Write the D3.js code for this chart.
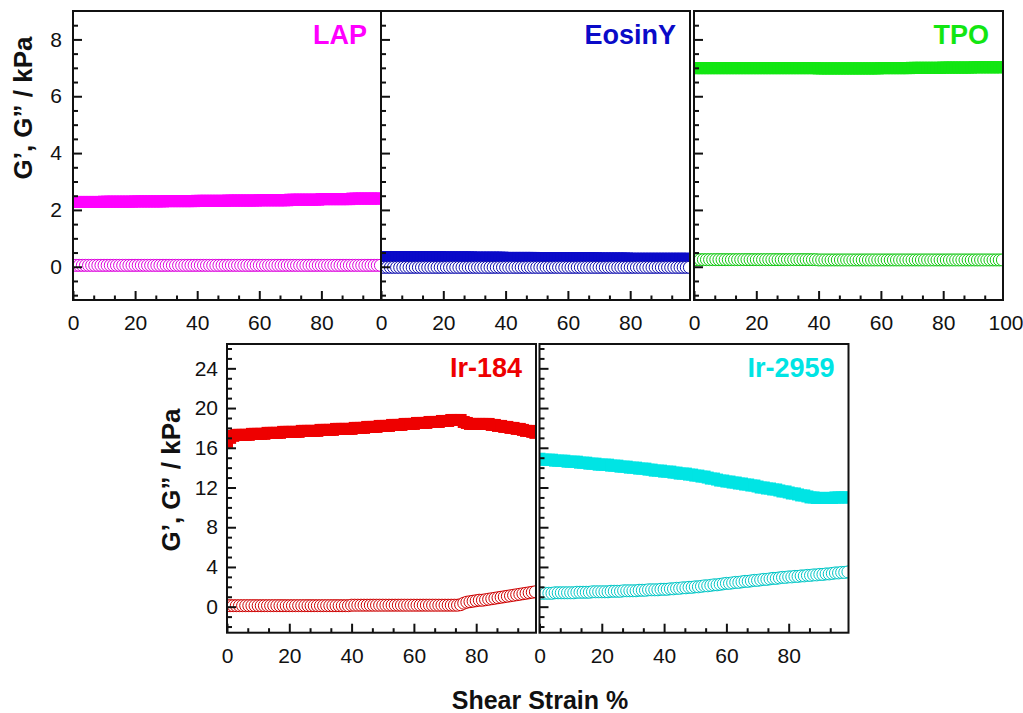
<!DOCTYPE html>
<html>
<head>
<meta charset="utf-8">
<script src="https://cdn.jsdelivr.net/npm/d3@7"></script>
<style>
  body { margin: 0; background: #fff; }
  svg { display: block; font-family: "Liberation Sans", Arial, sans-serif; }
</style>
</head>
<body>
<svg id="chart" width="1023" height="713"></svg>
<script>
// shear strain (%) of every measured point
const strain = [0,1,2,3,4,5,6,7,8,9,10,11,12,13,14,15,16,17,18,19,20,21,22,23,24,25,26,27,28,29,30,31,32,33,34,35,36,37,38,39,40,41,42,43,44,45,46,47,48,49,50,51,52,53,54,55,56,57,58,59,60,61,62,63,64,65,66,67,68,69,70,71,72,73,74,75,76,77,78,79,80,81,82,83,84,85,86,87,88,89,90,91,92,93,94,95,96,97,98,99]

// G' (filled squares) and G'' (open circles), kPa
const lapGp = [2.28,2.28,2.28,2.28,2.28,2.28,2.28,2.28,2.28,2.28, 2.29,2.29,2.29,2.29,2.29,2.29,2.29,2.29,2.29,2.29, 2.30,2.30,2.30,2.30,2.30,2.30,2.30,2.30,2.30,2.30, 2.31,2.31,2.31,2.31,2.31,2.31,2.31,2.31,2.31,2.31, 2.32,2.32,2.32,2.32,2.32,2.32,2.32,2.32,2.32,2.32, 2.33,2.33,2.33,2.33,2.33,2.33,2.33,2.33,2.33,2.33, 2.34,2.34,2.34,2.34,2.34,2.34,2.34,2.34,2.34,2.34, 2.36,2.36,2.36,2.36,2.36,2.36,2.36,2.36,2.36,2.36, 2.38,2.38,2.38,2.38,2.38,2.38,2.38,2.38,2.38,2.38, 2.40,2.40,2.40,2.40,2.40,2.40,2.40,2.40,2.40,2.40]
const lapGpp = [0.05,0.05,0.05,0.05,0.05,0.05,0.05,0.05,0.05,0.05, 0.05,0.05,0.05,0.05,0.05,0.05,0.05,0.05,0.05,0.05, 0.05,0.05,0.05,0.05,0.05,0.05,0.05,0.05,0.05,0.05, 0.05,0.05,0.05,0.05,0.05,0.05,0.05,0.05,0.05,0.05, 0.05,0.05,0.05,0.05,0.05,0.05,0.05,0.05,0.05,0.05, 0.05,0.05,0.05,0.05,0.05,0.05,0.05,0.05,0.05,0.05, 0.05,0.05,0.05,0.05,0.05,0.05,0.05,0.05,0.05,0.05, 0.05,0.05,0.05,0.05,0.05,0.05,0.05,0.05,0.05,0.05, 0.05,0.05,0.05,0.05,0.05,0.05,0.05,0.05,0.05,0.05, 0.05,0.05,0.05,0.05,0.05,0.05,0.05,0.05,0.05,0.05]

const eosinGp = [0.34,0.34,0.34,0.34,0.34,0.34,0.34,0.34,0.34,0.34, 0.34,0.34,0.34,0.34,0.34,0.34,0.34,0.34,0.34,0.34, 0.33,0.33,0.33,0.33,0.33,0.33,0.33,0.33,0.33,0.33, 0.32,0.32,0.32,0.32,0.32,0.32,0.32,0.32,0.32,0.32, 0.31,0.31,0.31,0.31,0.31,0.31,0.31,0.31,0.31,0.31, 0.30,0.30,0.30,0.30,0.30,0.30,0.30,0.30,0.30,0.30, 0.30,0.30,0.30,0.30,0.30,0.30,0.30,0.30,0.30,0.30, 0.29,0.29,0.29,0.29,0.29,0.29,0.29,0.29,0.29,0.29, 0.28,0.28,0.28,0.28,0.28,0.28,0.28,0.28,0.28,0.28, 0.28,0.28,0.28,0.28,0.28,0.28,0.28,0.28,0.28,0.28]
const eosinGpp = [-0.02,-0.02,-0.02,-0.02,-0.02,-0.02,-0.02,-0.02,-0.02,-0.02, -0.02,-0.02,-0.02,-0.02,-0.02,-0.02,-0.02,-0.02,-0.02,-0.02, -0.02,-0.02,-0.02,-0.02,-0.02,-0.02,-0.02,-0.02,-0.02,-0.02, -0.02,-0.02,-0.02,-0.02,-0.02,-0.02,-0.02,-0.02,-0.02,-0.02, -0.02,-0.02,-0.02,-0.02,-0.02,-0.02,-0.02,-0.02,-0.02,-0.02, -0.02,-0.02,-0.02,-0.02,-0.02,-0.02,-0.02,-0.02,-0.02,-0.02, -0.02,-0.02,-0.02,-0.02,-0.02,-0.02,-0.02,-0.02,-0.02,-0.02, -0.02,-0.02,-0.02,-0.02,-0.02,-0.02,-0.02,-0.02,-0.02,-0.02, -0.02,-0.02,-0.02,-0.02,-0.02,-0.02,-0.02,-0.02,-0.02,-0.02, -0.02,-0.02,-0.02,-0.02,-0.02,-0.02,-0.02,-0.02,-0.02,-0.02]

const tpoGp = [6.99,6.99,6.99,6.99,6.99,6.99,6.99,6.99,6.99,6.99, 6.99,6.99,6.99,6.99,6.99,6.99,6.99,6.99,6.99,6.99, 6.99,6.99,6.99,6.99,6.99,6.99,6.99,6.99,6.99,6.99, 6.99,6.99,6.99,6.99,6.99,6.99,6.99,6.99,6.99,6.99, 6.98,6.98,6.98,6.98,6.98,6.98,6.98,6.98,6.98,6.98, 6.98,6.98,6.98,6.98,6.98,6.98,6.98,6.98,6.98,6.98, 6.99,6.99,6.99,6.99,6.99,6.99,6.99,6.99,6.99,6.99, 7.00,7.00,7.00,7.00,7.00,7.00,7.00,7.00,7.00,7.00, 7.01,7.01,7.01,7.01,7.01,7.01,7.01,7.01,7.01,7.01, 7.02,7.02,7.02,7.02,7.02,7.02,7.02,7.02,7.02,7.02]
const tpoGpp = [0.25,0.25,0.25,0.25,0.25,0.25,0.25,0.25,0.25,0.25, 0.25,0.25,0.25,0.25,0.25,0.25,0.25,0.25,0.25,0.25, 0.25,0.25,0.25,0.25,0.25,0.25,0.25,0.25,0.25,0.25, 0.25,0.25,0.25,0.25,0.25,0.25,0.25,0.25,0.25,0.25, 0.24,0.24,0.24,0.24,0.24,0.24,0.24,0.24,0.24,0.24, 0.24,0.24,0.24,0.24,0.24,0.24,0.24,0.24,0.24,0.24, 0.24,0.24,0.24,0.24,0.24,0.24,0.24,0.24,0.24,0.24, 0.24,0.24,0.24,0.24,0.24,0.24,0.24,0.24,0.24,0.24, 0.24,0.24,0.24,0.24,0.24,0.24,0.24,0.24,0.24,0.24, 0.24,0.24,0.24,0.24,0.24,0.24,0.24,0.24,0.24,0.24]

const ir184Gp = [16.6,17.0,17.2,17.3,17.3,17.3,17.3,17.3,17.4,17.4, 17.4,17.4,17.4,17.5,17.5,17.5,17.5,17.5,17.6,17.6, 17.6,17.6,17.6,17.6,17.7,17.7,17.7,17.7,17.7,17.7, 17.8,17.8,17.8,17.8,17.8,17.9,17.9,17.9,17.9,17.9, 17.9,18.0,18.0,18.0,18.0,18.1,18.1,18.1,18.1,18.2, 18.2,18.2,18.2,18.3,18.3,18.3,18.3,18.4,18.4,18.4, 18.4,18.5,18.5,18.5,18.5,18.6,18.6,18.6,18.6,18.7, 18.7,18.7,18.8,18.8,18.8,18.8,18.6,18.5,18.4,18.4, 18.4,18.4,18.4,18.4,18.4,18.3,18.3,18.2,18.2,18.1, 18.1,18.0,18.0,17.9,17.9,17.8,17.7,17.7,17.6,17.5]
const ir184Gpp = [0.1,0.1,0.1,0.1,0.1,0.1,0.1,0.1,0.1,0.1, 0.1,0.1,0.1,0.1,0.1,0.1,0.1,0.1,0.1,0.1, 0.1,0.1,0.1,0.1,0.1,0.1,0.1,0.1,0.1,0.1, 0.1,0.1,0.1,0.1,0.1,0.1,0.1,0.1,0.1,0.1, 0.15,0.15,0.15,0.15,0.15,0.15,0.15,0.15,0.15,0.15, 0.15,0.15,0.15,0.15,0.15,0.15,0.15,0.15,0.15,0.15, 0.15,0.15,0.15,0.15,0.15,0.15,0.15,0.15,0.15,0.15, 0.15,0.15,0.15,0.15,0.15,0.2,0.35,0.45,0.5,0.55, 0.6,0.65,0.65,0.7,0.75,0.8,0.85,0.9,0.95,1.0, 1.05,1.1,1.15,1.2,1.25,1.3,1.35,1.4,1.45,1.5]

const ir2959Gp = [14.9,14.8,14.8,14.8,14.8,14.7,14.7,14.7,14.7,14.6, 14.6,14.6,14.6,14.5,14.5,14.5,14.4,14.4,14.4,14.3, 14.3,14.3,14.3,14.2,14.2,14.2,14.1,14.1,14.1,14.0, 14.0,14.0,13.9,13.9,13.9,13.8,13.8,13.7,13.7,13.7, 13.6,13.6,13.6,13.5,13.5,13.4,13.4,13.4,13.3,13.3, 13.2,13.2,13.1,13.1,13.0,12.9,12.9,12.8,12.7,12.7, 12.6,12.6,12.5,12.5,12.4,12.4,12.3,12.3,12.2,12.2, 12.1,12.0,12.0,11.9,11.9,11.8,11.8,11.7,11.6,11.6, 11.5,11.4,11.4,11.3,11.2,11.2,11.1,11.0,11.0,10.95, 10.95,10.95,10.95,10.95,10.95,11.0,11.0,11.0,11.0,11.0]
const ir2959Gpp = [1.35,1.35,1.35,1.35,1.35,1.4,1.4,1.4,1.4,1.4, 1.4,1.4,1.45,1.45,1.45,1.45,1.45,1.5,1.5,1.5, 1.5,1.5,1.5,1.55,1.55,1.55,1.55,1.6,1.6,1.6, 1.6,1.6,1.65,1.65,1.65,1.7,1.7,1.7,1.7,1.75, 1.75,1.75,1.8,1.8,1.85,1.85,1.9,1.9,1.95,1.95, 2.0,2.0,2.05,2.1,2.1,2.15,2.2,2.2,2.25,2.3, 2.35,2.35,2.4,2.45,2.45,2.5,2.55,2.55,2.6,2.65, 2.65,2.7,2.75,2.75,2.8,2.85,2.85,2.9,2.95,2.95, 3.0,3.0,3.05,3.05,3.1,3.1,3.15,3.15,3.2,3.2, 3.25,3.25,3.3,3.3,3.35,3.4,3.4,3.45,3.45,3.5]

// tick labels
const topYTicks = [0, 2, 4, 6, 8]
const botYTicks = [0, 4, 8, 12, 16, 20, 24]
const xTicks = [0, 20, 40, 60, 80]
const xTicksLast = [0, 20, 40, 60, 80, 100]

const yTitle = "G’, G” / kPa"
const xTitle = "Shear Strain %"

// layout of the five panels
const topRow = { y0: 11, y1: 300, dom: [-1.17, 9], ticks: topYTicks, minorStep: 0.5, labelGap: 11, lab: 15 }
const botRow = { y0: 344, y1: 632.7, dom: [-2.62, 26.45], ticks: botYTicks, minorStep: 1, labelGap: 9, lab: 15 }

const panels = [
  { name: "LAP", color: "#ff00ff", gp: lapGp, gpp: lapGpp, x0: 73, x1: 381, row: topRow, xt: xTicks, yLabels: true },
  { name: "EosinY", color: "#0a0ac8", gp: eosinGp, gpp: eosinGpp, x0: 381, x1: 690, row: topRow, xt: xTicks, yLabels: false },
  { name: "TPO", color: "#12e612", gp: tpoGp, gpp: tpoGpp, x0: 694, x1: 1003, row: topRow, xt: xTicksLast, yLabels: false },
  { name: "Ir-184", color: "#ee0000", gp: ir184Gp, gpp: ir184Gpp, x0: 227, x1: 536, row: botRow, xt: xTicks, yLabels: true },
  { name: "Ir-2959", color: "#00e4e4", gp: ir2959Gp, gpp: ir2959Gpp, x0: 539.5, x1: 848.5, row: botRow, xt: xTicks, yLabels: false }
]

const svg = d3.select("#chart")
const xMax = 99.2

panels.forEach((p, i) => {
  const r = p.row
  const x = d3.scaleLinear().domain([0, xMax]).range([p.x0, p.x1])
  const y = d3.scaleLinear().domain(r.dom).range([r.y1, r.y0])
  const g = svg.append("g")

  g.append("clipPath").attr("id", "clip" + i)
    .append("rect")
    .attr("x", p.x0).attr("y", r.y0)
    .attr("width", p.x1 - p.x0).attr("height", r.y1 - r.y0)

  const marks = g.append("g").attr("clip-path", `url(#clip${i})`)
  const pts = strain.map((s, k) => ({ s: s, gp: p.gp[k], gpp: p.gpp[k] }))

  marks.selectAll("rect.gp").data(pts).enter().append("rect")
    .attr("class", "gp")
    .attr("x", d => x(d.s) - 6).attr("y", d => y(d.gp) - 6)
    .attr("width", 12).attr("height", 12)
    .attr("fill", p.color)

  marks.selectAll("circle.gpp").data(pts).enter().append("circle")
    .attr("class", "gpp")
    .attr("cx", d => x(d.s)).attr("cy", d => y(d.gpp))
    .attr("r", 6)
    .attr("fill", "#fff")
    .attr("stroke", d3.color(p.color).darker(0.4))
    .attr("stroke-width", 1)

  // minor ticks
  const yMinor = d3.range(Math.ceil(r.dom[0] / r.minorStep) * r.minorStep, r.dom[1], r.minorStep)
    .filter(v => !r.ticks.includes(Math.round(v * 100) / 100))
  g.append("g").attr("transform", `translate(${p.x0},0)`)
    .call(d3.axisLeft(y).tickValues(yMinor).tickSize(-5).tickFormat(""))
  g.append("g").attr("transform", `translate(${p.x0},0)`)
    .call(d3.axisLeft(y).tickValues(r.ticks).tickSize(-9).tickPadding(r.labelGap)
      .tickFormat(p.yLabels ? d3.format("d") : ""))

  const xMinor = [20/3, 40/3, 80/3, 100/3, 140/3, 160/3, 200/3, 220/3, 260/3, 280/3]
  g.append("g").attr("transform", `translate(0,${r.y1})`)
    .call(d3.axisBottom(x).tickValues(xMinor).tickSize(-4.5).tickFormat(""))
  const xa = g.append("g").attr("transform", `translate(0,${r.y1})`)
    .call(d3.axisBottom(x).tickValues(p.xt).tickSize(-9).tickPadding(r.lab).tickFormat(d3.format("d")))
  xa.selectAll(".tick").filter(d => d > xMax).select("line").remove()

  g.selectAll(".domain").remove()
  g.selectAll(".tick line").attr("stroke", "#111").attr("stroke-width", 2)
  g.selectAll(".tick text").attr("font-size", 21).attr("fill", "#111")
    .attr("font-family", "'Liberation Sans', Arial, sans-serif")

  g.append("rect")
    .attr("x", p.x0).attr("y", r.y0)
    .attr("width", p.x1 - p.x0).attr("height", r.y1 - r.y0)
    .attr("fill", "none").attr("stroke", "#111").attr("stroke-width", 2)

  g.append("text")
    .attr("x", p.x1 - 14).attr("y", r.y0 + 33)
    .attr("text-anchor", "end")
    .attr("font-size", 27).attr("font-weight", "bold")
    .attr("fill", p.color)
    .text(p.name)
})

svg.append("text")
  .attr("transform", "translate(31.5,108) rotate(-90)")
  .attr("text-anchor", "middle")
  .attr("font-size", 26).attr("font-weight", "bold").attr("fill", "#111")
  .text(yTitle)

svg.append("text")
  .attr("transform", "translate(180,480) rotate(-90)")
  .attr("text-anchor", "middle")
  .attr("font-size", 26).attr("font-weight", "bold").attr("fill", "#111")
  .text(yTitle)

svg.append("text")
  .attr("x", 540).attr("y", 709)
  .attr("text-anchor", "middle")
  .attr("font-size", 25).attr("font-weight", "bold").attr("fill", "#111")
  .text(xTitle)
</script>
</body>
</html>
